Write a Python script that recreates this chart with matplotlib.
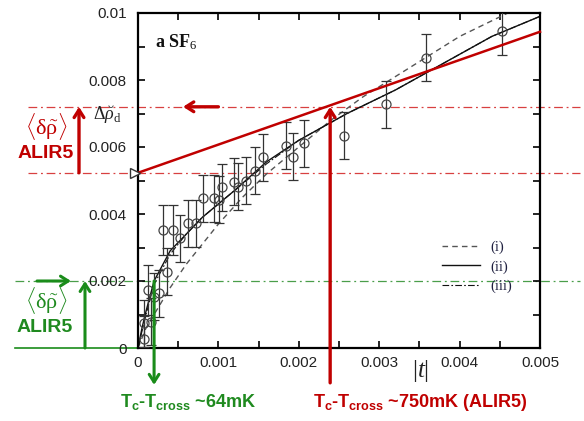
import matplotlib
matplotlib.use('Agg')
import matplotlib.pyplot as plt
from matplotlib.transforms import blended_transform_factory, offset_copy
import numpy as np

plt.rcParams['font.family'] = ['Liberation Sans', 'DejaVu Sans']
plt.rcParams['mathtext.fontset'] = 'custom'
plt.rcParams['mathtext.rm'] = 'Liberation Serif'
plt.rcParams['mathtext.it'] = 'Liberation Serif:italic'
plt.rcParams['mathtext.bf'] = 'Liberation Sans:bold'

# ---------------- data ----------------
t_data = [0.000075, 0.00007, 0.00013, 0.00016, 0.0002, 0.000265, 0.000315, 0.000365,
          0.00044, 0.00052, 0.000627, 0.00072, 0.00081, 0.00094, 0.00101, 0.00105,
          0.00119, 0.00124, 0.00134, 0.00146, 0.00156, 0.00184, 0.00193, 0.00206,
          0.00256, 0.00308, 0.00358, 0.00453]
rho_data = [0.00026, 0.00074, 0.00173, 0.00079, 0.00153, 0.00163, 0.00352, 0.00228,
            0.00352, 0.00327, 0.00372, 0.00372, 0.00447, 0.00447, 0.00442, 0.0048,
            0.00497, 0.00482, 0.005, 0.00529, 0.00569, 0.00604, 0.00571, 0.00611,
            0.00633, 0.00728, 0.00867, 0.00946]
rho_err = [0.0007, 0.0007, 0.00075, 0.0007, 0.0007, 0.0007, 0.00075, 0.0007,
           0.00075, 0.0007, 0.0007, 0.0007, 0.0007, 0.0007, 0.0007, 0.0007,
           0.0007, 0.0007, 0.0007, 0.0007, 0.0007, 0.0007, 0.0007, 0.0007,
           0.0007, 0.0007, 0.0007, 0.0007]

# model curve (ii), solid
t_ii = [0, 0.00005, 0.0001, 0.0002, 0.0004, 0.0006, 0.0008, 0.0012, 0.0016, 0.002,
        0.0026, 0.0032, 0.0038, 0.0044, 0.005]
rho_ii = [0, 0.0006, 0.0011, 0.0020, 0.0029, 0.0034, 0.0039, 0.0047, 0.00556, 0.0062,
          0.0070, 0.0077, 0.0085, 0.0093, 0.0099]
# model curve (i), dashed
t_i = [0, 0.0001, 0.0002, 0.0004, 0.0006, 0.0008, 0.001, 0.0013, 0.0016, 0.002,
       0.0024, 0.0028, 0.0032, 0.0036, 0.004, 0.0046]
rho_i = [0, 0.0006, 0.0010, 0.0018, 0.0025, 0.0031, 0.0037, 0.0045, 0.0052, 0.0060,
         0.0068, 0.0075, 0.0081, 0.0087, 0.0093, 0.0100]
# model curve (iii), dash-dot (nearly coincides with (ii))
t_iii = [0, 0.00005, 0.0001, 0.0002, 0.0004, 0.0006, 0.0008, 0.0012, 0.0016, 0.002,
         0.0026, 0.0032, 0.0038, 0.0044, 0.005]
rho_iii = [0, 0.0005, 0.001, 0.0019, 0.0028, 0.0034, 0.0039, 0.0047, 0.0055, 0.0062,
           0.0070, 0.0077, 0.0085, 0.0093, 0.0099]

# red reference line
red_t = [0, 0.005]
red_rho = [0.00523, 0.00944]
red_level_low = 0.00523
red_level_high = 0.0072
red_cross_t = 0.00239
green_level = 0.002
green_cross_t = 0.0002

x_ticks = [0, 0.0005, 0.001, 0.0015, 0.002, 0.0025, 0.003, 0.0035, 0.004, 0.0045, 0.005]
x_ticklabels = ['0', '', '0.001', '', '0.002', '', '0.003', '', '0.004', '', '0.005']
y_ticks = [0, 0.001, 0.002, 0.003, 0.004, 0.005, 0.006, 0.007, 0.008, 0.009, 0.01]
y_ticklabels = ['0', '', '0.002', '', '0.004', '', '0.006', '', '0.008', '', '0.01']
legend_labels = ['(i)', '(ii)', '(iii)']

# ---------------- figure ----------------
W, H = 584, 421
fig = plt.figure(figsize=(W / 100, H / 100), dpi=100)
ax = fig.add_axes([138 / W, (H - 348) / H, 402 / W, 335 / H])


def fx(px):
    return px / W


def fy(py):
    return 1 - py / H


RED = '#c00000'
RED_L = '#d84040'
GREEN = '#1a8c1a'
GREEN_T = '#1f8a1f'
GREEN_L = '#4a9e4a'

ax.errorbar(t_data, rho_data, yerr=rho_err, fmt='o', ms=6.5, mfc='none', mec='#444444',
            mew=0.9, ecolor='#333333', elinewidth=0.9, capsize=3.5, capthick=0.9, zorder=3)

l1, = ax.plot(t_i, rho_i, color='#555555', lw=1.0, ls=(0, (4, 3)), zorder=2)
l2, = ax.plot(t_ii, rho_ii, color='#111111', lw=1.0, zorder=2)
l3, = ax.plot(t_iii, rho_iii, color='#111111', lw=0.8, ls=(0, (6, 2, 1.5, 2)), zorder=2)

ax.plot(red_t, red_rho, color=RED, lw=1.8, zorder=4, clip_on=False)
tri_tr = offset_copy(ax.transData, fig=fig, x=-3.5, y=0, units='dots')
ax.plot([red_t[0]], [red_rho[0]], marker='>', ms=7, mfc='white', mec='#333333', mew=1.0,
        transform=tri_tr, clip_on=False, zorder=6)

# horizontal reference lines extending outside axes
bt = blended_transform_factory(fig.transFigure, ax.transData)
for lev in (red_level_low, red_level_high):
    ax.plot([fx(28), fx(580)], [lev, lev], transform=bt, color=RED_L, lw=0.9,
            ls=(0, (7, 3, 1.5, 3)), clip_on=False, zorder=1)
ax.plot([fx(15), fx(580)], [green_level, green_level], transform=bt, color=GREEN_L, lw=0.9,
        ls=(0, (7, 3, 1.5, 3)), clip_on=False, zorder=1)
ax.plot([fx(15), fx(138)], [0, 0], transform=bt, color=GREEN, lw=1.2, clip_on=False, zorder=1)

arrow_r = dict(arrowstyle='->,head_length=0.55,head_width=0.35', lw=2.4, color=RED,
               shrinkA=0, shrinkB=0)
arrow_g = dict(arrowstyle='->,head_length=0.55,head_width=0.35', lw=2.2, color=GREEN,
               shrinkA=0, shrinkB=0)

# red arrows
ax.annotate('', xy=(red_cross_t, red_level_high), xytext=(red_cross_t, -0.00104),
            arrowprops=arrow_r, annotation_clip=False, zorder=5)
ax.annotate('', xy=(0.00056, red_level_high), xytext=(0.001, red_level_high),
            arrowprops=arrow_r, annotation_clip=False, zorder=5)
ax.annotate('', xy=(fx(79), red_level_high), xytext=(fx(79), red_level_low),
            xycoords=('figure fraction', 'data'), textcoords=('figure fraction', 'data'),
            arrowprops=arrow_r, annotation_clip=False)

# green arrows
ax.annotate('', xy=(green_cross_t, -0.0011), xytext=(green_cross_t, green_level),
            arrowprops=arrow_g, annotation_clip=False, zorder=5)
ax.annotate('', xy=(fx(85), green_level), xytext=(fx(85), 0),
            xycoords=('figure fraction', 'data'), textcoords=('figure fraction', 'data'),
            arrowprops=arrow_g, annotation_clip=False)
ax.annotate('', xy=(fx(71), green_level), xytext=(fx(37), green_level),
            xycoords=('figure fraction', 'data'), textcoords=('figure fraction', 'data'),
            arrowprops=arrow_g, annotation_clip=False)

ax.set_xlim(0, 0.005)
ax.set_ylim(0, 0.01)
ax.set_xticks(x_ticks)
ax.set_xticklabels(x_ticklabels)
ax.set_yticks(y_ticks)
ax.set_yticklabels(y_ticklabels)
ax.tick_params(direction='in', top=True, right=True, length=5, width=1.2,
               labelsize=11, labelcolor='#222222')
ax.tick_params(axis='x', pad=6)
ax.tick_params(axis='y', pad=8)
for s in ax.spines.values():
    s.set_linewidth(1.6)

leg = ax.legend([l1, l2, l3], legend_labels, loc='upper left', bbox_to_anchor=(0.756, 0.32),
                frameon=False, handlelength=2.6, handletextpad=0.7, labelspacing=0.4,
                borderaxespad=0, borderpad=0, prop={'family': 'Liberation Serif', 'size': 10.5},
                labelcolor='#1f2040')

# texts
bracket = r'$\langle\mathrm{\delta}\tilde{\mathrm{\rho}}\rangle$'
fig.text(fx(46), fy(127), bracket, color=RED, fontsize=16, ha='center', va='center')
fig.text(fx(46), fy(153), 'ALIR5', color=RED, fontsize=14, fontweight='bold',
         ha='center', va='center')
fig.text(fx(46), fy(301), bracket, color=GREEN_T, fontsize=16, ha='center', va='center')
fig.text(fx(45), fy(328), 'ALIR5', color=GREEN_T, fontsize=14, fontweight='bold',
         ha='center', va='center')
fig.text(fx(120), fy(407), r'$\mathbf{T_c}$-$\mathbf{T_{cross}}$ ~64mK', color=GREEN_T,
         fontsize=13, fontweight='bold', ha='left', va='baseline')
fig.text(fx(313), fy(407), r'$\mathbf{T_c}$-$\mathbf{T_{cross}}$ ~750mK (ALIR5)', color=RED,
         fontsize=13, fontweight='bold', ha='left', va='baseline')
fig.text(fx(421), fy(371), r'$|t|$', color='#222222', fontsize=18, ha='center', va='center')
fig.text(fx(155), fy(47), r'a SF$_6$', color='#111111', fontsize=13, fontweight='bold',
         family='Liberation Serif', ha='left', va='baseline')
fig.text(fx(93), fy(120), r'$\Delta\breve{\rho}_{\rm d}$', color='#222222', fontsize=13,
         ha='left', va='baseline')

fig.savefig('out.png', dpi=100)
